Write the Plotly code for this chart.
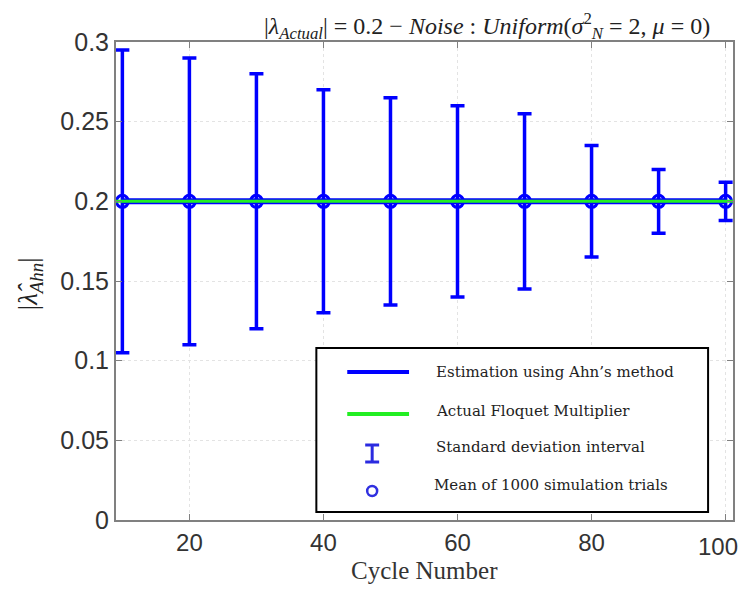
import plotly.graph_objects as go

# ---- data ----
cycles = [10, 20, 30, 40, 50, 60, 70, 80, 90, 100]
mean_est = [0.2, 0.2, 0.2, 0.2, 0.2, 0.2, 0.2, 0.2, 0.2, 0.2]
std_dev = [0.095, 0.09, 0.08, 0.07, 0.065, 0.06, 0.055, 0.035, 0.02, 0.012]
actual_x = [9.05, 101.1]
actual_y = [0.2, 0.2]
x_ticks = [20, 40, 60, 80, 100]
x_ticktext = ["20", "40", "60", "80", ""]   # last label drawn as edge annotation
x_last_label = "100"
y_ticks = [0, 0.05, 0.1, 0.15, 0.2, 0.25, 0.3]
y_ticktext = ["0", "0.05", "0.1", "0.15", "0.2", "0.25", "0.3"]
legend_labels = ["Estimation using Ahn\u2019s method", "Actual Floquet Multiplier",
                 "Standard deviation interval", "Mean of 1000 simulation trials"]

BLUE = "#0000FF"
GREEN = "#22EE22"
AX = "#808080"
SERIF = "Liberation Serif, DejaVu Serif, serif"
LEGSERIF = "DejaVu Serif, Liberation Serif, serif"
SANS = "Liberation Sans, Arial, sans-serif"

fig = go.Figure()
fig.add_trace(go.Scatter(
    x=cycles, y=mean_est, mode="lines+markers",
    line=dict(color=BLUE, width=6),
    marker=dict(symbol="circle-open", size=12, color=BLUE, line=dict(width=3, color=BLUE)),
    error_y=dict(type="data", array=std_dev, visible=True, color=BLUE, thickness=3.5, width=7),
    showlegend=False, cliponaxis=False,
))
fig.add_trace(go.Scatter(
    x=actual_x, y=actual_y, mode="lines",
    line=dict(color=GREEN, width=3), showlegend=False, cliponaxis=False,
))

OFF = 8  # page body margin
W, H = 753 - 2 * OFF, 594 - 2 * OFF
L, T = 116 - OFF, 42 - OFF
PR, PB = 735 - OFF, 520 - OFF
R, B = W - PR, H - PB
pw, ph = PR - L, PB - T


def px(xp):
    return (xp - OFF - L) / pw


def py(yp):
    return (PB - (yp - OFF)) / ph


shapes = []
# legend box
shapes.append(dict(type="rect", xref="paper", yref="paper", x0=px(317), x1=px(710),
                   y0=py(512), y1=py(348), line=dict(color="black", width=2),
                   fillcolor="white", layer="above"))
# legend samples
shapes.append(dict(type="line", xref="paper", yref="paper", x0=px(348), x1=px(410),
                   y0=py(372), y1=py(372), line=dict(color=BLUE, width=4), layer="above"))
shapes.append(dict(type="line", xref="paper", yref="paper", x0=px(348), x1=px(410),
                   y0=py(414), y1=py(414), line=dict(color=GREEN, width=4), layer="above"))
shapes.append(dict(type="line", xref="paper", yref="paper", x0=px(373), x1=px(373),
                   y0=py(445), y1=py(462), line=dict(color="#2a2ae0", width=3), layer="above"))
for yy in (445, 462):
    shapes.append(dict(type="line", xref="paper", yref="paper", x0=px(366), x1=px(380),
                       y0=py(yy), y1=py(yy), line=dict(color="#2a2ae0", width=3), layer="above"))
shapes.append(dict(type="circle", xref="paper", yref="paper", x0=px(368), x1=px(378),
                   y0=py(496), y1=py(486), line=dict(color="#3030e0", width=2.5), layer="above"))

annotations = []
for txt, xp, yp in zip(legend_labels, [435, 435, 435, 433], [372, 411, 447, 485]):
    annotations.append(dict(text=txt, xref="paper", yref="paper", x=px(xp), y=py(yp),
                            xanchor="left", yanchor="middle", showarrow=False,
                            font=dict(family=LEGSERIF, size=15, color="#222222")))

# last x tick label at the right page edge
annotations.append(dict(
    text=x_last_label, xref="paper", yref="paper", x=px(742), y=py(546),
    xanchor="right", yanchor="middle", showarrow=False,
    font=dict(family=SANS, size=24, color="#333333")))

# title
annotations.append(dict(
    text="|<i>λ</i><sub><i>Actual</i></sub>| = 0.2 − <i>Noise</i> : <i>Uniform</i>(<i>σ</i><sup>2</sup><sub><i>N</i></sub> = 2, <i>μ</i> = 0)",
    xref="paper", yref="paper", x=px(488), y=py(26), xanchor="center", yanchor="middle",
    showarrow=False, font=dict(family=SERIF, size=24, color="#222222")))
# y label
annotations.append(dict(
    text="|<i>λ̂</i><sub><i>Ahn</i></sub>|", xref="paper", yref="paper", x=px(30), y=py(284),
    xanchor="center", yanchor="middle", textangle=-90, showarrow=False,
    font=dict(family=SERIF, size=27, color="#222222")))
# x label
annotations.append(dict(
    text="Cycle Number", xref="paper", yref="paper", x=px(425), y=py(586),
    xanchor="center", yanchor="bottom", showarrow=False,
    font=dict(family=SERIF, size=25, color="#333333")))

fig.update_layout(
    width=W, height=H,
    margin=dict(l=L, r=R, t=T, b=B),
    paper_bgcolor="white", plot_bgcolor="white",
    shapes=shapes, annotations=annotations,
    xaxis=dict(range=[actual_x[0], actual_x[1]], tickvals=x_ticks, ticktext=x_ticktext,
               showline=True, mirror="ticks",
               linecolor=AX, linewidth=2, ticks="inside", ticklen=6, tickcolor=AX,
               showgrid=True, gridcolor="#e3e3e3", griddash="dot", gridwidth=1, zeroline=False,
               tickfont=dict(family=SANS, size=24, color="#333333")),
    yaxis=dict(range=[0, 0.3], tickvals=y_ticks, ticktext=y_ticktext, showline=True, mirror="ticks",
               linecolor=AX, linewidth=2, ticks="inside", ticklen=6, tickcolor=AX,
               showgrid=True, gridcolor="#e3e3e3", griddash="dot", gridwidth=1, zeroline=False,
               tickfont=dict(family=SANS, size=25, color="#333333")),
)

fig.write_html("out.html")
